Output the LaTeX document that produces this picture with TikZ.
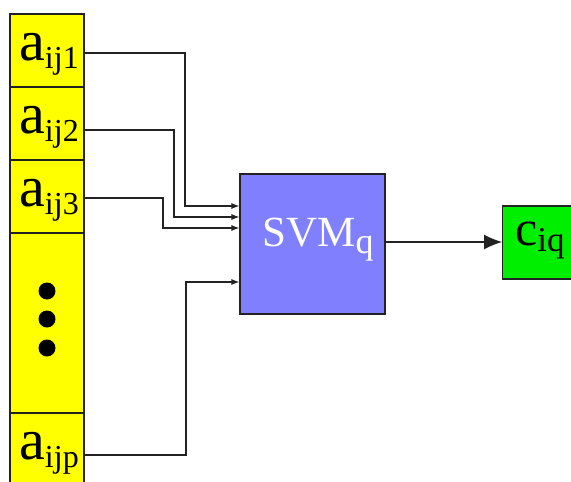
\documentclass[tikz,border=0pt]{standalone}
\usepackage{fontspec}
\setmainfont{Liberation Serif}
\usetikzlibrary{arrows.meta,calc,positioning}
\definecolor{cellyellow}{HTML}{FFFF00}
\definecolor{svmblue}{HTML}{8080FF}
\definecolor{outgreen}{HTML}{00EE00}
\definecolor{edge}{HTML}{222222}
\newcommand{\aname}[1]{\hspace*{4pt}\raisebox{-9.5pt}[0pt][0pt]{{\fontsize{58}{58}\selectfont a}\raisebox{-8pt}{\fontsize{32}{32}\selectfont ij#1}}}
\tikzset{cell/.style={draw=edge, fill=cellyellow, line width=1.1pt, minimum width=74pt, inner sep=0pt}, feed/.style={-{Latex[length=8pt,width=6pt]}, line width=1.1pt, color=edge}, outarr/.style={-{Latex[length=18pt,width=15pt]}, line width=1.1pt, color=edge}}

\begin{document}
\begin{tikzpicture}[x=1pt,y=-1pt]
\useasboundingbox (0,0) rectangle (571,482);
% input column
\node[cell, minimum height=73pt] (a1) at (47,50.5) {\aname{1}};
\node[cell, minimum height=73pt] (a2) at (47,123.5) {\aname{2}};
\node[cell, minimum height=73pt] (a3) at (47,196.5) {\aname{3}};
\node[cell, minimum height=180pt] (dots) at (47,323) {};
\node[cell, minimum height=73pt] (ap) at (47,449.5) {\aname{p}};
\foreach \yy in {291,319,348} \fill (47,\yy) circle (8.5pt);
% classifier and output
\node[draw=edge, fill=svmblue, line width=1.1pt, minimum width=145pt, minimum height=140pt] (svm) at (312.5,244) {};
\node[text=white, inner sep=0pt] (svmlab) at (318,240) {{\fontsize{43}{43}\selectfont SVM}\raisebox{-7pt}{\fontsize{36}{36}\selectfont q}};
\node[draw=edge, fill=outgreen, line width=1.1pt, minimum width=75pt, minimum height=73pt, anchor=west] (c) at (502,242.5) {};
\node[inner sep=0pt] (clab) at (540,240) {{\fontsize{50}{50}\selectfont c}\raisebox{-6pt}{\fontsize{35}{35}\selectfont iq}};
\coordinate (in1) at (svm.north west |- 0,206);
\coordinate (in2) at (svm.north west |- 0,217);
\coordinate (in3) at (svm.north west |- 0,228);
\coordinate (inp) at (svm.north west |- 0,282);
\draw[feed] (a1.east |- 0,53) -- (185,53) |- (in1);
\draw[feed] (a2.east |- 0,130) -- (174,130) |- (in2);
\draw[feed] (a3.east |- 0,198) -- (163,198) |- (in3);
\draw[feed] (ap.east |- 0,455) -- (186,455) |- (inp);
\draw[outarr] (svm.east |- 0,242) -- (c.west |- 0,242);
\end{tikzpicture}
\end{document}
